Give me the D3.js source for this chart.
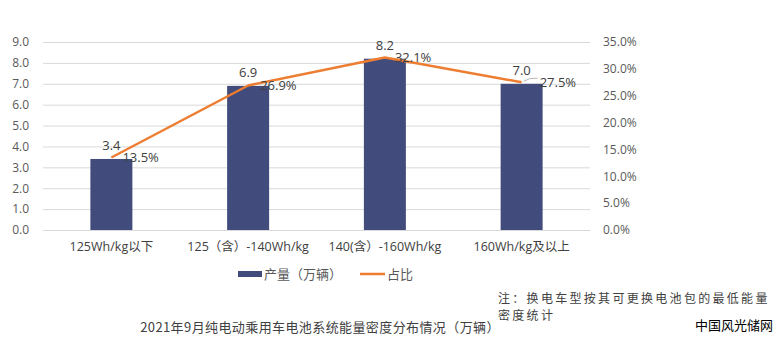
<!DOCTYPE html>
<html><head><meta charset="utf-8">
<script src="https://cdn.jsdelivr.net/npm/d3@7"></script>
<style>body{margin:0;background:#fff}svg{display:block;font-family:"Open Sans","Noto Sans CJK SC",sans-serif}</style>
</head><body>
<svg id="c" width="781" height="355"></svg>
<script>
const categories = ["125Wh/kg以下","125（含）-140Wh/kg","140(含）-160Wh/kg","160Wh/kg及以上"];
const production = [3.4, 6.9, 8.2, 7.0];
const share = [13.5, 26.9, 32.1, 27.5];
const leftTicks = [0,1,2,3,4,5,6,7,8,9];
const rightTicks = [0,5,10,15,20,25,30,35];
const seriesNames = ["产量（万辆）","占比"];
const title = "2021年9月纯电动乘用车电池系统能量密度分布情况（万辆）";
const noteLines = ["注：换电车型按其可更换电池包的最低能量","密度统计"];
const watermark = "中国风光储网";

const svg = d3.select("#c");
const m = {l:43, r:590, t:42, b:230};
const x = d3.scaleBand().domain(categories).range([m.l, m.r]).paddingInner(0.693).paddingOuter(0.3465);
const yL = d3.scaleLinear().domain([0,9]).range([m.b, m.t]);
const yR = d3.scaleLinear().domain([0,35]).range([m.b, m.t]);
const cx = c => x(c) + x.bandwidth()/2;

// gridlines
svg.append("g").selectAll("line").data(leftTicks).join("line")
  .attr("x1", m.l).attr("x2", m.r)
  .attr("y1", d=>yL(d)+0.5).attr("y2", d=>yL(d)+0.5)
  .attr("stroke", "#d9d9d9").attr("stroke-width", 1);

// left axis
const la = svg.append("g").attr("transform", `translate(${m.l},0)`)
  .call(d3.axisLeft(yL).tickValues(leftTicks).tickFormat(d3.format(".1f")).tickSize(0).tickPadding(14));
la.select(".domain").remove();
la.selectAll("text").attr("fill","#595959").style("font-size","12px").style("font-family","Open Sans");

// right axis
const ra = svg.append("g").attr("transform", `translate(${m.r},0)`)
  .call(d3.axisRight(yR).tickValues(rightTicks).tickFormat(d=>d.toFixed(1)+"%").tickSize(0).tickPadding(13));
ra.select(".domain").remove();
ra.selectAll("text").attr("fill","#595959").style("font-size","12px").style("font-family","Open Sans");

// bottom axis labels
const ba = svg.append("g").attr("transform", `translate(0,${m.b})`)
  .call(d3.axisBottom(x).tickSize(0).tickPadding(12));
ba.select(".domain").remove();
ba.selectAll("text").attr("fill","#404040").style("font-size","12.5px").style("font-family","Open Sans, Noto Sans CJK SC");

// bars
const barColor = "#414b7c";
svg.append("g").selectAll("rect").data(production).join("rect")
  .attr("x", (d,i)=>x(categories[i])).attr("width", x.bandwidth())
  .attr("y", d=>yL(d)).attr("height", d=>m.b - yL(d))
  .attr("fill", barColor);

// line
const lineColor = "#ed7d31";
const line = d3.line().x((d,i)=>cx(categories[i])).y(d=>yR(d));
svg.append("path").datum(share).attr("d", line)
  .attr("fill","none").attr("stroke", lineColor).attr("stroke-width", 2.5).attr("stroke-linejoin","round");

// bar value labels
svg.append("g").selectAll("text").data(production).join("text")
  .attr("x", (d,i)=>cx(categories[i])).attr("y", d=>yL(d)-9)
  .attr("text-anchor","middle").attr("fill","#404040")
  .style("font-size","13px").style("font-family","Open Sans")
  .text(d=>d.toFixed(1));

// share labels
const offs = [11, 12, 10, 18];
svg.append("g").selectAll("text").data(share).join("text")
  .attr("x", (d,i)=>cx(categories[i]) + offs[i]).attr("y", d=>yR(d))
  .attr("dy","0.35em").attr("fill","#404040")
  .style("font-size","13px").style("font-family","Open Sans")
  .text(d=>d.toFixed(1)+"%");
// leader line for last label
{
  const i = 3, px = cx(categories[i]), py = yR(share[i]);
  svg.append("path").attr("d", `M${px+2},${py-1} Q${px+8},${py-5} ${px+16},${py-4}`)
    .attr("fill","none").attr("stroke","#a6a6a6").attr("stroke-width",0.8);
}

// legend
const lg = svg.append("g").style("font-family","Noto Sans CJK SC").style("font-size","13px");
lg.append("rect").attr("x",238).attr("y",271).attr("width",24).attr("height",6).attr("fill",barColor);
lg.append("text").attr("x",264).attr("y",274).attr("dy","0.35em").attr("fill","#595959").text(seriesNames[0]);
lg.append("line").attr("x1",360).attr("x2",385).attr("y1",274).attr("y2",274).attr("stroke",lineColor).attr("stroke-width",2.5);
lg.append("text").attr("x",387).attr("y",274).attr("dy","0.35em").attr("fill","#595959").text(seriesNames[1]);

// note
svg.append("g").selectAll("text").data(noteLines).join("text")
  .attr("x",498).attr("y",(d,i)=>299+i*17).attr("dy","0.35em")
  .attr("fill","#404040").style("font-family","Noto Sans CJK SC").style("font-size","12px")
  .style("letter-spacing","2.3px").text(d=>d);

// title
svg.append("text").attr("x",320).attr("y",327).attr("dy","0.35em").attr("text-anchor","middle")
  .attr("fill","#404040").style("font-family","Noto Sans CJK SC").style("font-size","13px")
  .style("letter-spacing","0.4px").text(title);

// watermark
svg.append("text").attr("x",695).attr("y",325).attr("dy","0.35em")
  .attr("fill","#000").style("font-family","Noto Sans CJK SC").style("font-size","13px").text(watermark);
</script>
</body></html>
